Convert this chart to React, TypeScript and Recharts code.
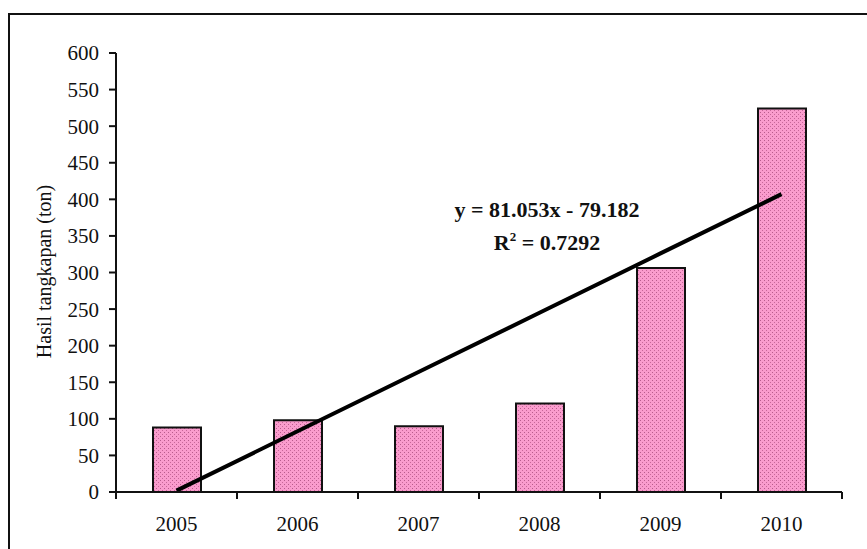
import React from 'react';
import { ComposedChart, Bar, Line, XAxis, YAxis, Customized } from 'recharts';

// Annual catch per year (tonnes)
const years = ['2005', '2006', '2007', '2008', '2009', '2010'];
const catchTons = [88, 98, 90, 121, 306, 524];
const yTicks = [0, 50, 100, 150, 200, 250, 300, 350, 400, 450, 500, 550, 600];

// Linear trend fitted over year index (1..6)
const slope = 81.053;
const intercept = -79.182;
const rSquared = 0.7292;

const data = years.map((year, i) => ({
  year,
  value: catchTons[i],
  trend: slope * (i + 1) + intercept,
}));

const FONT = '"Liberation Serif", "Times New Roman", serif';

const YearTick = (props: any) => {
  const { x, y, payload, index, width } = props;
  const half = (width ?? 726) / years.length / 2;
  const last = index === years.length - 1;
  return (
    <g>
      <line x1={x - half} y1={y} x2={x - half} y2={y + 7} stroke="#111" strokeWidth={2} />
      {last && <line x1={x + half} y1={y} x2={x + half} y2={y + 7} stroke="#111" strokeWidth={2} />}
      <text x={x} y={y + 39} textAnchor="middle" fontFamily={FONT} fontSize={21} fill="#111">
        {payload.value}
      </text>
    </g>
  );
};

const YTitle = (props: any) => {
  const vb = props.viewBox || { x: 56, y: 53, width: 60, height: 439 };
  const cx = vb.x - 12.5;
  const cy = vb.y + vb.height / 2 - 1;
  return (
    <text
      x={cx}
      y={cy}
      transform={`rotate(-90, ${cx}, ${cy})`}
      textAnchor="middle"
      dominantBaseline="central"
      fontFamily={FONT}
      fontSize={20}
      fill="#111"
    >
      Hasil tangkapan (ton)
    </text>
  );
};

const Extras = () => (
  <g>
    <defs>
      <pattern id="dots" width="4" height="4" patternUnits="userSpaceOnUse">
        <rect width="4" height="4" fill="#fa9ccd" />
        <rect x="0" y="0" width="1" height="1" fill="#b85c8c" />
        <rect x="2" y="2" width="1" height="1" fill="#c8679a" />
      </pattern>
    </defs>
    <rect x={9} y={14} width={900} height={600} fill="none" stroke="#111" strokeWidth={2} />
    <text x={547} y={217} textAnchor="middle" fontFamily={FONT} fontWeight="bold" fontSize={22} fill="#111">
      {`y = ${slope}x - ${Math.abs(intercept)}`}
    </text>
    <text x={547} y={250} textAnchor="middle" fontFamily={FONT} fontWeight="bold" fontSize={22} fill="#111">
      R
      <tspan fontSize={13} dy={-9}>2</tspan>
      <tspan dy={9}>{` = ${rSquared}`}</tspan>
    </text>
  </g>
);

export default function App() {
  return (
    <div style={{ position: 'absolute', left: 0, top: 0, width: 867, height: 549, background: '#fff' }}>
      <ComposedChart
        width={867}
        height={549}
        data={data}
        margin={{ top: 53, right: 25, bottom: 17, left: 56 }}
        barCategoryGap={0}
      >
        <Customized component={Extras} />
        <XAxis
          dataKey="year"
          height={40}
          tickLine={false}
          tickSize={0}
          tickMargin={0}
          axisLine={{ stroke: '#111', strokeWidth: 2 }}
          tick={<YearTick />}
          interval={0}
        />
        <YAxis
          width={60}
          domain={[0, 600]}
          ticks={yTicks}
          interval={0}
          tickSize={7}
          tickMargin={10}
          axisLine={{ stroke: '#111', strokeWidth: 2 }}
          tickLine={{ stroke: '#111', strokeWidth: 2 }}
          tick={{ fontFamily: FONT, fontSize: 21, fill: '#111' }}
          label={<YTitle />}
        />
        <Bar dataKey="value" barSize={48} fill="url(#dots)" stroke="#111" strokeWidth={2} isAnimationActive={false} />
        <Line
          dataKey="trend"
          type="linear"
          stroke="#000"
          strokeWidth={4}
          dot={false}
          activeDot={false}
          isAnimationActive={false}
        />
      </ComposedChart>
    </div>
  );
}
